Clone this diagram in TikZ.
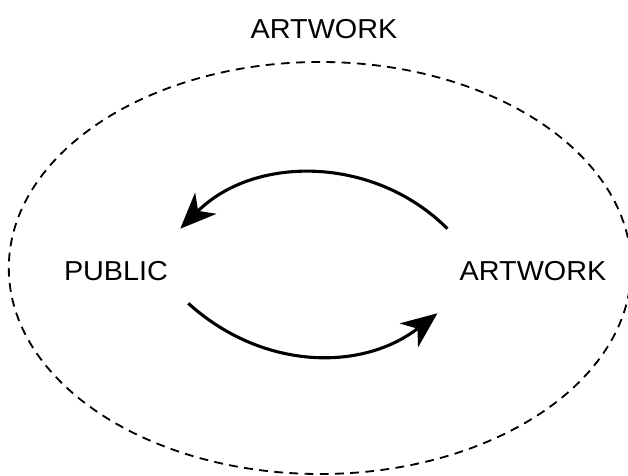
\documentclass[tikz,border=0pt]{standalone}
\usepackage{fontspec}
\usepackage{tikz}
\usetikzlibrary{arrows.meta}
\newfontfamily\labelfont{Liberation Sans}[FakeStretch=1.05]

\begin{document}
\begin{tikzpicture}[
  every node/.style = {font=\labelfont\fontsize{19.5pt}{22pt}\selectfont},
  side/.style = {minimum height=2.1cm, inner xsep=0.3cm},
  flow/.style = {line width=2.2pt, -{Stealth[length=0.9cm, width=0.75cm, inset=0.27cm]}},
  frame/.style = {line width=1.3pt, dash pattern=on 0.22cm off 0.16cm}]
  \useasboundingbox (0,0) rectangle (15.7,11.9);
  \draw[frame] (8.0,5.2) ellipse [x radius=7.78cm, y radius=5.15cm];
  \node (whole) at (8.1,11.18) {ARTWORK};
  \node[side] (public) at (2.9,5.125) {PUBLIC};
  \node[side] (artwork) at (13.325,5.125) {ARTWORK};
  \draw[flow] (artwork.north west) to[bend right=45] (public.north east);
  \draw[flow] ([xshift=0.2cm,yshift=0.25cm]public.south east) to[bend right=40] ([xshift=-0.25cm]artwork.south west);
\end{tikzpicture}
\end{document}
